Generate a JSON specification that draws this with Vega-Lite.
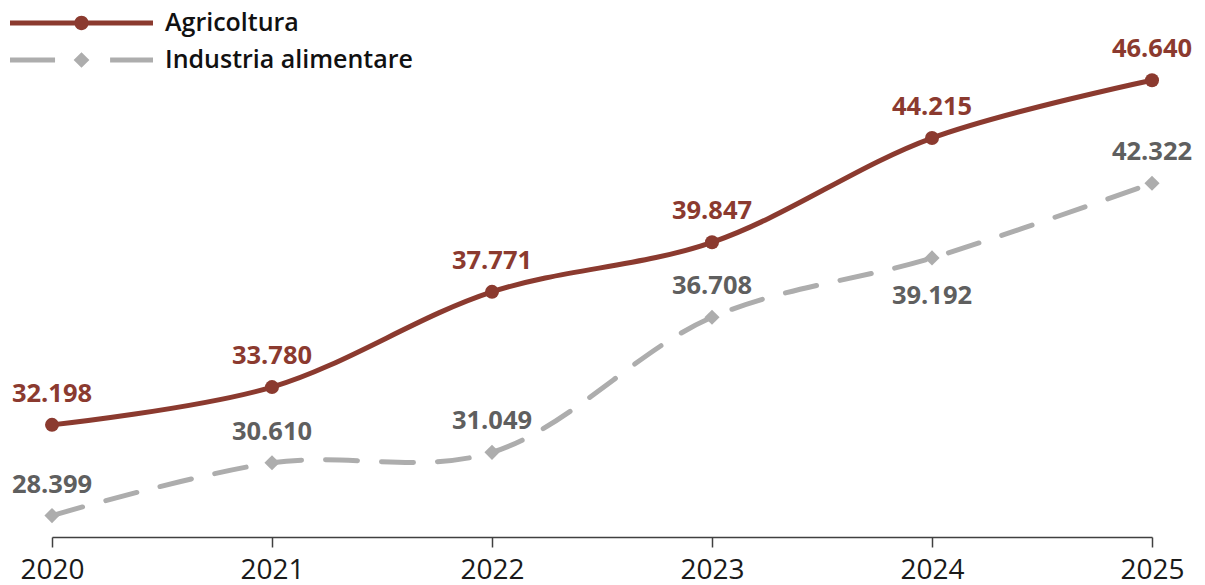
{
  "$schema": "https://vega.github.io/schema/vega-lite/v6.json",
  "width": 1100,
  "height": 537,
  "autosize": {"type": "none"},
  "padding": {"left": 52, "top": 0, "right": 53, "bottom": 48},
  "background": "white",
  "config": {
    "view": {"stroke": null},
    "locale": {"number": {"decimal": ",", "thousands": ".", "grouping": [3], "currency": ["€", ""]}},
    "font": "Open Sans"
  },
  "data": {
    "values": [
      {"year": 2020, "series": "Agricoltura", "value": 32198},
      {"year": 2021, "series": "Agricoltura", "value": 33780},
      {"year": 2022, "series": "Agricoltura", "value": 37771},
      {"year": 2023, "series": "Agricoltura", "value": 39847},
      {"year": 2024, "series": "Agricoltura", "value": 44215},
      {"year": 2025, "series": "Agricoltura", "value": 46640},
      {"year": 2020, "series": "Industria alimentare", "value": 28399},
      {"year": 2021, "series": "Industria alimentare", "value": 30610},
      {"year": 2022, "series": "Industria alimentare", "value": 31049},
      {"year": 2023, "series": "Industria alimentare", "value": 36708},
      {"year": 2024, "series": "Industria alimentare", "value": 39192},
      {"year": 2025, "series": "Industria alimentare", "value": 42322}
    ]
  },
  "encoding": {
    "x": {
      "field": "year", "type": "quantitative",
      "scale": {"domain": [2020, 2025], "nice": false, "zero": false},
      "axis": {
        "title": null, "values": [2020, 2021, 2022, 2023, 2024, 2025], "format": "d",
        "grid": false, "domainColor": "#404040", "domainWidth": 1.5,
        "tickColor": "#404040", "tickWidth": 1.5, "tickSize": 10,
        "labelFont": "Open Sans", "labelFontSize": 28, "labelColor": "#1a1a1a",
        "labelPadding": 9, "labelFlush": false, "labelOverlap": false
      }
    },
    "y": {
      "field": "value", "type": "quantitative",
      "scale": {"domain": [27500, 50000], "nice": false, "zero": false},
      "axis": null
    }
  },
  "layer": [
    {
      "transform": [{"filter": "datum.series === 'Agricoltura'"}],
      "mark": {"type": "line", "color": "#8B3A2F", "strokeWidth": 5, "interpolate": "catmull-rom", "strokeCap": "round"}
    },
    {
      "transform": [{"filter": "datum.series === 'Industria alimentare'"}],
      "mark": {"type": "line", "color": "#ADADAD", "strokeWidth": 5, "interpolate": "catmull-rom", "strokeCap": "round", "strokeDash": [32, 24]}
    },
    {
      "transform": [{"filter": "datum.series === 'Agricoltura'"}],
      "mark": {"type": "point", "shape": "circle", "filled": true, "color": "#8B3A2F", "size": 196, "opacity": 1}
    },
    {
      "transform": [{"filter": "datum.series === 'Industria alimentare'"}],
      "mark": {"type": "point", "shape": "diamond", "filled": true, "color": "#ADADAD", "size": 230, "opacity": 1}
    },
    {
      "transform": [{"filter": "datum.series === 'Agricoltura'"}],
      "mark": {"type": "text", "dy": -23, "baseline": "alphabetic", "align": "center", "color": "#8B3A2F", "font": "Open Sans", "fontSize": 25.5, "fontWeight": 700},
      "encoding": {"text": {"field": "value", "type": "quantitative", "format": ","}}
    },
    {
      "transform": [{"filter": "datum.series === 'Industria alimentare' && datum.year !== 2024"}],
      "mark": {"type": "text", "dy": -23, "baseline": "alphabetic", "align": "center", "color": "#5F5F5F", "font": "Open Sans", "fontSize": 25.5, "fontWeight": 700},
      "encoding": {"text": {"field": "value", "type": "quantitative", "format": ","}}
    },
    {
      "transform": [{"filter": "datum.series === 'Industria alimentare' && datum.year === 2024"}],
      "mark": {"type": "text", "dy": 46, "baseline": "alphabetic", "align": "center", "color": "#5F5F5F", "font": "Open Sans", "fontSize": 25.5, "fontWeight": 700},
      "encoding": {"text": {"field": "value", "type": "quantitative", "format": ","}}
    },
    {
      "transform": [{"filter": "false"}],
      "mark": {"type": "point", "filled": true, "opacity": 1},
      "encoding": {
        "color": {
          "field": "series", "type": "nominal",
          "scale": {"domain": ["Agricoltura", "Industria alimentare"], "range": ["#8B3A2F", "#ADADAD"]},
          "legend": {
            "title": null, "orient": "none", "legendX": -42, "legendY": 12,
            "direction": "vertical", "padding": 0, "clipHeight": 22, "rowPadding": 12,
            "symbolSize": 20449, "symbolStrokeWidth": 0, "symbolOffset": 0,
            "labelFont": "Open Sans", "labelFontSize": 25, "labelFontWeight": 600,
            "labelColor": "#111111", "labelOffset": 12, "labelLimit": 400
          }
        },
        "shape": {
          "field": "series", "type": "nominal",
          "scale": {
            "domain": ["Agricoltura", "Industria alimentare"],
            "range": [
              "M-1,-0.035 L1,-0.035 L1,0.035 L-1,0.035 Z M-0.1,0 A0.1,0.1 0 1,1 0.1,0 A0.1,0.1 0 1,1 -0.1,0 Z",
              "M-1,-0.035 L-0.37,-0.035 L-0.37,0.035 L-1,0.035 Z M0.4,-0.035 L1,-0.035 L1,0.035 L0.4,0.035 Z M0,-0.11 L0.11,0 L0,0.11 L-0.11,0 Z"
            ]
          },
          "legend": {
            "title": null, "orient": "none", "legendX": -42, "legendY": 12,
            "direction": "vertical", "padding": 0, "clipHeight": 22, "rowPadding": 12,
            "symbolSize": 20449, "symbolStrokeWidth": 0, "symbolOffset": 0,
            "labelFont": "Open Sans", "labelFontSize": 25, "labelFontWeight": 600,
            "labelColor": "#111111", "labelOffset": 12, "labelLimit": 400
          }
        }
      }
    }
  ]
}
